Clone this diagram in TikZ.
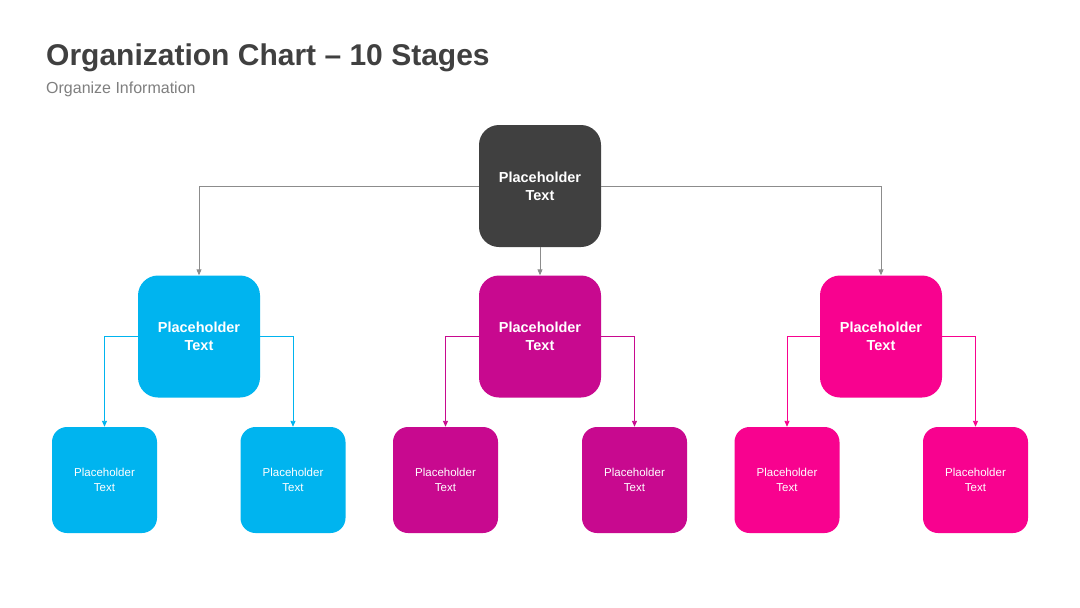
\documentclass[tikz,border=0pt]{standalone}
\usepackage{fontspec}
\setmainfont{Liberation Sans}
\usetikzlibrary{arrows.meta}

\definecolor{topgray}{HTML}{404040}
\definecolor{linegray}{HTML}{8C8C8C}
\definecolor{subgray}{HTML}{7F7F7F}
\definecolor{cyanbox}{HTML}{00B4EF}
\definecolor{magbox}{HTML}{C8098F}
\definecolor{pinkbox}{HTML}{F8028F}

\tikzset{
    bigbox/.style={rounded corners=20pt, minimum width=122pt, minimum height=122pt, inner sep=0pt,
        align=center, text=white, font=\fontsize{14.5}{18}\selectfont\bfseries},
    smallbox/.style={rounded corners=15pt, minimum width=105pt, minimum height=106pt, inner sep=0pt,
        align=center, text=white, font=\fontsize{11.5}{15}\selectfont},
    link/.style={-{Triangle[length=6pt,width=5pt]}, line width=0.9pt}
}

\begin{document}
\begin{tikzpicture}[x=1pt, y=-1pt]
    \useasboundingbox (0,0) rectangle (1080,608);
    \fill[white] (0,0) rectangle (1080,608);

    % Titel
    \node[anchor=base west, inner sep=0pt, text=topgray, font=\fontsize{30}{35}\selectfont\bfseries] (title) at (46,65) {Organization Chart – 10 Stages};
    \node[anchor=base west, inner sep=0pt, text=subgray, font=\fontsize{16}{19}\selectfont] (subtitle) at (46,93) {Organize Information};

    % Spitze
    \node[bigbox, fill=topgray] (top) at (540,186) {Placeholder\\Text};

    % zweite Ebene
    \node[bigbox, fill=cyanbox] (m1) at (199,336.5) {Placeholder\\Text};
    \node[bigbox, fill=magbox] (m2) at (540,336.5) {Placeholder\\Text};
    \node[bigbox, fill=pinkbox] (m3) at (881,336.5) {Placeholder\\Text};

    % dritte Ebene
    \foreach \n/\x/\c in {b1/104.5/cyanbox, b2/293/cyanbox, b3/445.5/magbox, b4/634.5/magbox, b5/787/pinkbox, b6/975.5/pinkbox} {
        \node[smallbox, fill=\c] (\n) at (\x,480) {Placeholder\\Text};
    }

    % Verbindungen
    \draw[link, linegray] (top.west) -| (m1.north);
    \draw[link, linegray] (top.east) -| (m3.north);
    \draw[link, linegray] (top.south) -- (m2.north);

    \foreach \m/\l/\r/\c in {m1/b1/b2/cyanbox, m2/b3/b4/magbox, m3/b5/b6/pinkbox} {
        \draw[link, \c] (\m.west) -| (\l.north);
        \draw[link, \c] (\m.east) -| (\r.north);
    }
\end{tikzpicture}
\end{document}
